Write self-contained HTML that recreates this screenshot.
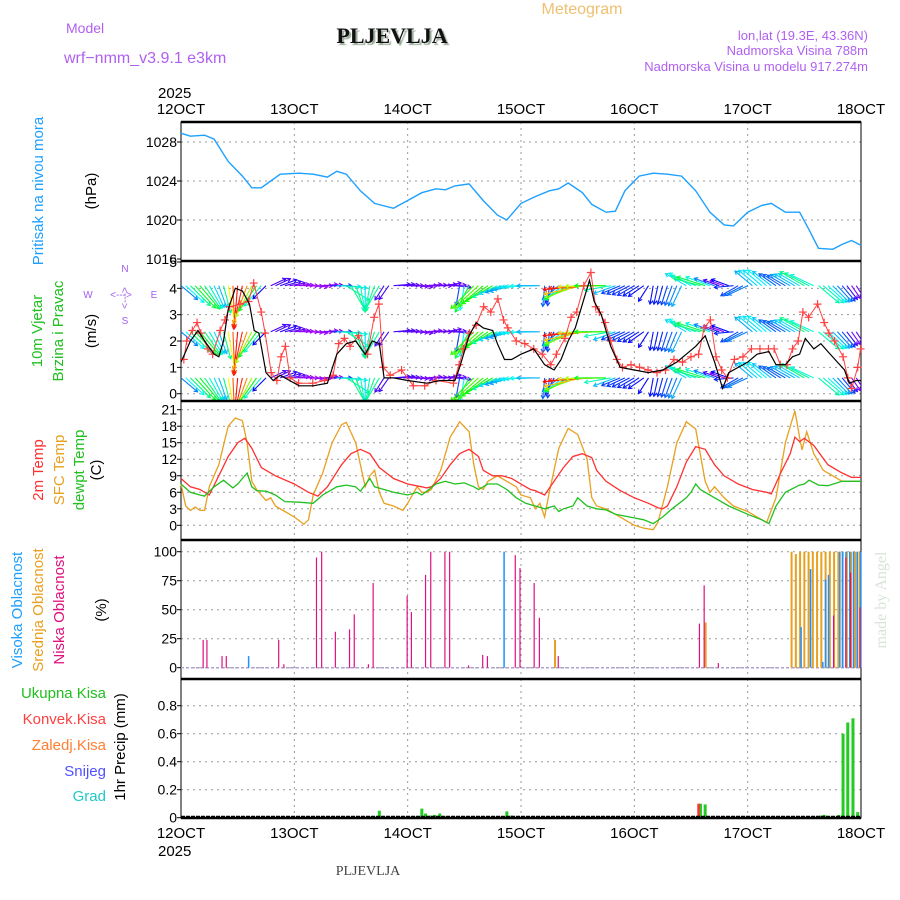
<!DOCTYPE html>
<html><head><meta charset="utf-8"><style>
body{margin:0;background:#fff;width:900px;height:900px;overflow:hidden}
svg{display:block;font-family:"Liberation Sans",sans-serif}
</style></head><body>
<svg id="c" width="900" height="900" viewBox="0 0 900 900">
<defs><clipPath id="wclip"><rect x="181" y="262" width="680" height="139"/></clipPath></defs>
<text x="582" y="14" fill="#f0c070" font-size="16" text-anchor="middle">Meteogram</text>
<text x="66" y="33" fill="#b060f0" font-size="14">Model</text>
<text x="64" y="63" fill="#b060f0" font-size="16">wrf−nmm_v3.9.1  e3km</text>
<text x="392" y="43" fill="#111" font-size="22" font-weight="bold" font-family="Liberation Serif,serif" text-anchor="middle" style="text-shadow:2px 2px 1px #9a9">PLJEVLJA</text>
<text x="868" y="40" fill="#b060f0" font-size="13" text-anchor="end">lon,lat (19.3E, 43.36N)</text>
<text x="868" y="55" fill="#b060f0" font-size="13" text-anchor="end">Nadmorska Visina 788m</text>
<text x="868" y="71" fill="#b060f0" font-size="13" text-anchor="end">Nadmorska Visina u modelu 917.274m</text>
<text x="368" y="875" fill="#444" font-size="14" font-family="Liberation Serif,serif" text-anchor="middle">PLJEVLJA</text>
<text transform="translate(886,600) rotate(-90)" fill="#d8e4d8" font-size="16" font-family="Liberation Serif,serif" text-anchor="middle">made by Angel</text>
<g id="g"></g>
</svg>
<script>
// ---------- data ----------
const dayLabels=["12OCT","13OCT","14OCT","15OCT","16OCT","17OCT","18OCT"];
const presH=[0,2,5,7,10,13,15,17,19,21,25,28,31,33,35,38,41,45,48,51,54,56,58,61,64,67,69,72,75,78,80,82,85,87,90,92,94,97,100,103,106,109,112,115,117,120,123,125,128,131,133,135,138,140,142,144];
const presV=[1028.9,1028.6,1028.7,1028.3,1026,1024.5,1023.3,1023.3,1024,1024.7,1024.8,1024.7,1024.4,1025,1024.7,1023,1021.7,1021.2,1022,1022.8,1023.2,1023.1,1023.5,1023.7,1022,1020.5,1020,1021.7,1022.4,1023,1023.2,1023.8,1022.8,1021.6,1020.8,1020.9,1023,1024.5,1024.8,1024.7,1024.5,1023,1020.8,1019.5,1019.4,1020.8,1021.5,1021.7,1020.8,1020.8,1019,1017.1,1017,1017.5,1017.9,1017.4];
const presTicks=[1016,1020,1024,1028];
const windTicks=[0,1,2,3,4,5];
const wsH=[0,2,3.6,5,7,8,9,10,11.5,13,14.5,15.5,16.5,18,19.5,21,23,25,28,31,33,35,37,39,40.5,42,43,45,48,52,55,58,59,61,62.5,64,66,67,68.5,70,72,74.7,77,79,80.5,82,83.5,85,86.5,87.5,89,91,93,96,99,102,105,107,109,111,113,114.7,116,118,120,122,124.5,126,128,129.5,131,132.2,134,135.5,137,139,140.5,141.5,143,144];
const wsV=[1.2,2,2.4,2,1.5,1.4,2,3.2,4.0,3.9,3.4,2.4,2.3,0.8,0.5,0.7,0.5,0.3,0.3,0.4,1.5,1.9,2.0,1.5,2.0,1.9,0.6,0.6,0.5,0.4,0.5,0.5,1.0,2.2,2.7,2.5,2.4,1.9,1.3,1.3,1.5,1.7,1.1,0.9,1.3,2.0,2.5,3.4,4.3,3.5,3.0,1.8,1.0,0.9,0.8,0.9,1.2,1.5,1.8,2.2,1.2,0.2,0.8,1.0,1.2,1.5,1.6,1.1,1.1,1.4,1.5,2.1,1.7,1.9,1.6,1.2,0.9,0.4,0.5,0.5];
const gustH=[0.6,1.2,2.4,3.4,4.2,5.7,6.7,8.3,9.3,10.3,12.5,14.3,15.4,17,17.8,19.1,20.3,21.2,22.1,23.1,24.9,27.9,30.4,32.2,33.4,34.6,35.8,37.6,39.5,40.9,41.9,42.9,44.3,46.7,49.2,51.6,54,57.7,58.9,59.8,61.1,62.5,64.1,65.6,67.1,68.3,69.2,71,72.8,74.7,76.5,78.3,79.5,81.3,82.6,83.8,85.3,86.8,87.8,88.6,89.8,91,92.3,93.5,95.3,97.1,98.9,100.8,102.6,104.4,106.2,108,109.6,110.8,112.1,113.3,114.5,115.7,117.2,119,120.8,122.6,124.4,125.6,126.9,128.3,129.5,130.7,131.7,132.9,134.8,136.2,137.2,138.4,140.2,141.2,142,143.3,143.9];
const gustV=[1.3,2.0,2.4,2.7,2.3,1.7,1.5,2.4,2.8,3.3,3.4,3.5,4.2,3.1,2.3,0.8,0.5,1.4,1.8,0.6,0.4,0.4,0.5,0.7,1.9,2.1,1.8,2.2,1.5,2.9,3.4,1.0,0.7,0.9,0.3,0.3,0.5,0.4,1.1,1.7,2.3,2.6,3.3,3.1,3.6,2.8,2.5,2.0,1.9,1.7,1.5,1.1,1.5,2.1,2.9,3.1,4.1,4.6,3.3,3.1,2.7,2.0,1.3,1.0,1.1,1.0,0.9,0.8,0.9,1.3,1.2,1.4,1.5,2.5,2.8,1.4,0.9,0.6,1.3,1.4,1.7,1.7,1.7,1.7,1.1,1.1,1.7,2.0,3.1,2.9,3.4,2.7,2.3,2.0,1.4,0.6,0.2,1.0,1.7];
// wind arrow direction (screen angle, deg; 0 = right, 90 = down, 180 = left, -90 = up), every 2 hours
const windDirs=[40,45,50,60,70,80,95,110,125,135,-25,-15,-5,0,5,-5,0,5,60,80,100,120,125,-5,0,5,-5,0,-10,5,100,135,140,150,160,165,175,178,180,95,140,150,160,175,178,180,160,155,150,145,100,105,110,115,-150,-165,-160,-160,-160,150,155,-140,-140,-145,-150,-150,-150,-155,40,45,50,55,60];
const tempTicks=[0,3,6,9,12,15,18,21];
const t2H=[0,2,4,6,8,10,12,13.5,15,17,20,24,27,29,31,34,36,38,40,42,45,48,51,52,53,55,57,59,61,63,64,66,68,70,73,74,75,77,79,81,83,85,87,88,90,93,96,99,101,102,103,105,107,109,111,113,115,118,121,124,125,127,129,130,131,132,134,137,140,142,144];
const t2V=[8.5,7,6.5,5.5,9,12.5,15,15.8,14,10.5,9,7.5,6,5.3,7,11,13,13.8,13,10.5,8.5,7.5,7,6.8,7,8.5,11,13,13.8,12.5,10,9,9,8.5,7,6.5,6.3,5.5,8,10.5,12.5,13,12.3,10,8,6.3,5,4,3.2,3,3.5,7,11.5,14.3,13.8,11,9,7.5,6.5,6,5.7,9.5,13,16,15.2,15.8,14.5,11,9.5,8.7,8.7];
const sfcH=[0,1,2,3,4,5,6,8,10,11.5,13,14,15,16,17,18,19,20,22,24,26,27,28,30,32,34,35,37,38,39,40,41,42,43,45,47,48,50,51,52,53,55,57,59,61,62,63,64,65,67,69,71,72,74,75,76,77,78,80,82,84,86,87,88,90,92,94,96,98,100,101,103,105,107,109,111,112,113,115,117,120,122,124,126,128,130,131,131.5,132.5,134,136,138,140,144];
const sfcV=[7.5,3.5,2.7,3.3,2.7,2.7,7,11,18,19.5,19,15,8,6.5,5.5,4.5,5,3.5,2.5,1.5,0.2,1,5.5,9.5,15,18.3,18.7,15,11,7,9,10,6,4,3.5,2.7,4,7,6,6,6.5,10,16,18.8,17,11,7,6.5,8,9,8,7,5.5,5,3,4,1.5,6,14,17.6,16.5,12,5,3.5,3,2,1,0,-0.5,-0.8,0.5,7,15,18.8,17.5,8,6,7,5,3.5,2.5,1.5,0.5,5,15,20.8,16,13.7,17,13,10,9,8,8];
const dewH=[0,2,4,5,7,9,11,12,14,15,16,18,20,22,25,28,30,33,35,37,38,40,41,43,45,48,50,51,52,54,56,58,60,62,63,65,67,69,71,73,75,77,79,80,81,83,84,86,88,90,92,95,98,100,102,104,107,108,109,110,111,113,116,120,123,124.5,126,128,131,132,133,135,137,140,144];
const dewV=[7.5,6,5.5,5.3,7,8.2,6.8,7.5,9.5,7,6.3,6.2,5.5,4.3,4.2,4,5.5,7,7.3,7,6.2,8.5,7,6.5,6,5.5,6,5.5,6.2,7.5,8,7.5,7.7,7,6.5,7.5,7.5,6.5,5,4,3.5,3,3.5,2.5,3,3.5,5,3.5,3,2.8,2,1.5,1,0.3,1.5,3,5,6,7.5,6.5,6,5,3.5,2,1,0.3,3.5,6,7.3,7.5,8.2,7.3,7.2,8,8];
const cloudTicks=[0,25,50,75,100];
const lowH=[4.9,5.7,8.9,9.8,20.9,22,28.9,30,32.9,35.9,36.9,39.9,40.9,48.1,49,52,53.1,56.1,57.1,61.1,64.1,65.1,71,72,75,76.1,80.1,110,111,114,138.4,141,142,144];
const lowV=[24,24,10,10,24,3,95,100,31,33,46,3,73,62,48,80,100,100,100,2,11,10,97,86,73,43,10,38,71,4,45,95,82,52];
const midH=[79.2,111.1,129.3,130.2,131.1,132,132.9,133.8,134.7,135.6,136.5,137.4,138.3,139.2,140.1,141,141.9,142.8,143.7];
const midV=[24,39,100,98,100,100,100,100,100,100,100,100,100,100,100,100,100,100,100];
const highH=[14,68.1,131,133,135.6,136.2,136.8,139.2,139.8,140.5,141.3,142.1,142.9,143.6];
const highV=[10,100,35,85,5,76,80,100,100,100,100,100,100,100];
const precTicks=[0,0.2,0.4,0.6,0.8];
const precH=[39.9,42,50,51,51.8,52.8,53.7,54.8,55.8,68,69,70,110,111,135.4,136.2,139.3,140.2,141.2,142.3,143.3];
const precV=[0.01,0.05,0.01,0.065,0.03,0.015,0.02,0.03,0.01,0.01,0.045,0.015,0.1,0.095,0.015,0.02,0.02,0.6,0.68,0.71,0.04];
const convH=[109.6];
const convV=[0.1];

// ---------- drawing ----------
const NS="http://www.w3.org/2000/svg";
const G=document.getElementById('g');
const X0=181,X1=861;
const xs=h=>X0+(X1-X0)*h/144;
function mk(tag,attrs,parent){const e=document.createElementNS(NS,tag);for(const k in attrs)e.setAttribute(k,attrs[k]);(parent||G).appendChild(e);return e;}
function lin(v0,v1,p0,p1){return v=>p0+(v-v0)*(p1-p0)/(v1-v0);}
const panels=[
 {name:'pressure',top:122,bot:261,y:lin(1016,1028,259,142),ticks:presTicks,fmt:v=>v},
 {name:'wind',top:261,bot:401,y:lin(0,5,393.7,262),ticks:windTicks,fmt:v=>v},
 {name:'temperature',top:401,bot:540,y:lin(0,21,525.3,409.7),ticks:tempTicks,fmt:v=>v},
 {name:'cloud',top:540,bot:679,y:lin(0,100,667.7,551.7),ticks:cloudTicks,fmt:v=>v},
 {name:'precip',top:679,bot:818,y:lin(0,0.8,817.7,705.7),ticks:precTicks,fmt:v=>v==0?'0':v.toFixed(1)}
];
panels.forEach(p=>{
  for(let d=1;d<6;d++){
    const l=mk('line',{x1:xs(d*24),x2:xs(d*24),y1:p.top,y2:p.bot,stroke:'#999','stroke-dasharray':'2,4'});
    
    
  }
  p.ticks.forEach(v=>{
    const y=p.y(v);
    if(y>p.top+3&&y<p.bot-3){const l=mk('line',{x1:X0,x2:X1,y1:y,y2:y,stroke:'#999','stroke-dasharray':'2,4'});
    
    }
    const tk=mk('line',{x1:X0-4,x2:X0,y1:y,y2:y,stroke:'#000'});
    
    
    const t=mk('text',{x:X0-4,y:y+5,'font-size':14,'text-anchor':'end',fill:'#000'});
    t.textContent=p.fmt(v);
    
    
  });
  const r=mk('rect',{x:X0,y:p.top,width:X1-X0,height:p.bot-p.top,fill:'none',stroke:'#000','stroke-width':1});
  
  
});
dayLabels.forEach((d,i)=>{
  [[114,'top'],[838,'bottom']].forEach(([y,w])=>{
    const t=mk('text',{x:xs(i*24),y:y,'font-size':15,'text-anchor':'middle',fill:'#000'});
    t.textContent=d;
    
    
  });
});
[[98],[856]].forEach(([y])=>{const t=mk('text',{x:158,y:y,'font-size':15,fill:'#000'});t.textContent='2025';
  
  });

function path(H,V,yf,color,name,w){
  const d=H.map((h,i)=>(i?'L':'M')+xs(h).toFixed(1)+','+yf(V[i]).toFixed(1)).join('');
  const p=mk('path',{d:d,fill:'none',stroke:color,'stroke-width':w||1.2});
  
  
}
path(presH,presV,panels[0].y,'#1ea0ff','pressure-line',1.4);

// wind arrows
function hue(s){const h=Math.max(0,Math.min(285,300-s*75));return 'hsl('+h+',95%,50%)';}
function speedAt(h){let s=wsV[0];for(let k=0;k<wsH.length-1;k++){if(h>=wsH[k]&&h<=wsH[k+1]){const f=(h-wsH[k])/(wsH[k+1]-wsH[k]);s=wsV[k]+f*(wsV[k+1]-wsV[k]);}}return s;}
function dirAt(h){const i=Math.floor(h/2),f=(h/2)-i;const a=windDirs[i],b=windDirs[Math.min(i+1,windDirs.length-1)];let d=b-a;if(d>180)d-=360;if(d<-180)d+=360;if(Math.abs(d)>60)return f<0.5?a:b;return a+f*d;}
const wy=panels[1].y;
const WG=mk('g',{'clip-path':'url(#wclip)'});


[4.1,2.35,0.6].forEach((lv)=>{
  for(let h=0;h<=144;h+=1){
    const s=speedAt(h);
    const a=dirAt(h);
    const L=12+s*8;
    const x=xs(h),y=wy(lv);
    const r=a*Math.PI/180;
    const x2=x+L*Math.cos(r),y2=y+L*Math.sin(r);
    const c=hue(s);
    const ln=mk('line',{x1:x,y1:y,x2:x2,y2:y2,stroke:c,'stroke-width':1.1},WG);
    
    
    const hd=mk('path',{d:`M${x2+4*Math.cos(r+2.6)},${y2+4*Math.sin(r+2.6)}L${x2},${y2}L${x2+4*Math.cos(r-2.6)},${y2+4*Math.sin(r-2.6)}`,fill:'none',stroke:c,'stroke-width':1.1},WG);
    
    
  }
});
path(gustH,gustV,wy,'#ff4040','wind-gust-line',1);
gustH.forEach((h,i)=>{
  const x=xs(h),y=wy(gustV[i]);
  const m=mk('path',{d:`M${x-4},${y}H${x+4}M${x},${y-4}V${y+4}`,stroke:'#ff4040','stroke-width':1.2});
  
  
});
path(wsH,wsV,wy,'#000','wind-speed-line',1.2);

const ty=panels[2].y;
path(sfcH,sfcV,ty,'#e8a020','sfc-temp-line',1.3);
path(t2H,t2V,ty,'#ff3030','temp-2m-line',1.3);
path(dewH,dewV,ty,'#20c020','dewpoint-line',1.3);

const cy=panels[3].y;
function bars(H,V,yf,color,name,w,dx){
  H.forEach((h,i)=>{const x=xs(h)+(dx||0);const r=mk('rect',{x:x-w/2,y:yf(V[i]),width:w,height:Math.max(0,yf(0)-yf(V[i])),fill:color});
    
    });
}
mk('line',{x1:X0,x2:X1,y1:cy(0),y2:cy(0),stroke:'#b0a0d0','stroke-width':1.5,'stroke-dasharray':'3,2'});
bars(midH,midV,cy,'#e8a020','mid-cloud-bar',2);
bars(highH,highV,cy,'#1e90ff','high-cloud-bar',1.5,1.5);
bars(lowH,lowV,cy,'#e0107f','low-cloud-bar',1.2,-1);

const py=panels[4].y;
bars(precH,precV,py,'#22cc22','total-precip-bar',3);
bars(convH,convV,py,'#ff3030','conv-precip-bar',2.5);
mk('line',{x1:X0,x2:X1,y1:py(0)-1,y2:py(0)-1,stroke:'#000','stroke-width':2,'stroke-dasharray':'4,1'});

[122,261,401,540,679,818].forEach(y=>{const l=mk('line',{x1:X0,x2:X1,y1:y,y2:y,stroke:'#000','stroke-width':2.5});
  
  });

// axis titles
function vt(x,y,txt,color,name,fs){const t=mk('text',{transform:`translate(${x},${y}) rotate(-90)`,'text-anchor':'middle',fill:color,'font-size':fs||15});t.textContent=txt;
  
  }
vt(43,191,'Pritisak na nivou mora','#1ea0ff','pressure-title');
vt(96,191,'(hPa)','#000','pressure-unit');
vt(42,331,'10m Vjetar','#20c020','wind-title-1');
vt(63,331,'Brzina i Pravac','#20c020','wind-title-2');
vt(96,331,'(m/s)','#000','wind-unit');
vt(43,470,'2m Temp','#ff3030','temp-title');
vt(64,470,'SFC Temp','#e8a020','sfc-temp-title');
vt(84,470,'dewpt Temp','#20c020','dewpoint-title');
vt(101,470,'(C)','#000','temp-unit');
vt(22,610,'Visoka Oblacnost','#1ea0ff','high-cloud-title');
vt(43,610,'Srednja Oblacnost','#e8a020','mid-cloud-title');
vt(64,610,'Niska Oblacnost','#e0107f','low-cloud-title');
vt(106,610,'(%)','#000','cloud-unit');
vt(125,747,'1hr Precip (mm)','#000','precip-title');
[['Ukupna Kisa','#20c020',698],['Konvek.Kisa','#ff4040',724],['Zaledj.Kisa','#ff8030',750],['Snijeg','#5050ff',776],['Grad','#20c8c8',801]].forEach(([t,c,y])=>{
  const e=mk('text',{x:106,y:y,'text-anchor':'end',fill:c,'font-size':15});e.textContent=t;
  
  
});
// compass
[['N',125,272],['W',88,298],['E',154,298],['S',125,324]].forEach(([t,x,y])=>{
  const e=mk('text',{x:x,y:y,'text-anchor':'middle',fill:'#a060f0','font-size':10});e.textContent=t;
  
  
});
const cp=mk('text',{x:121,y:298,'text-anchor':'middle',fill:'#a060f0','font-size':10});cp.textContent='<--->';


const cv=mk('text',{transform:'translate(128,298) rotate(-90)','text-anchor':'middle',fill:'#a060f0','font-size':10});cv.textContent='<--->';


</script>
</body></html>
